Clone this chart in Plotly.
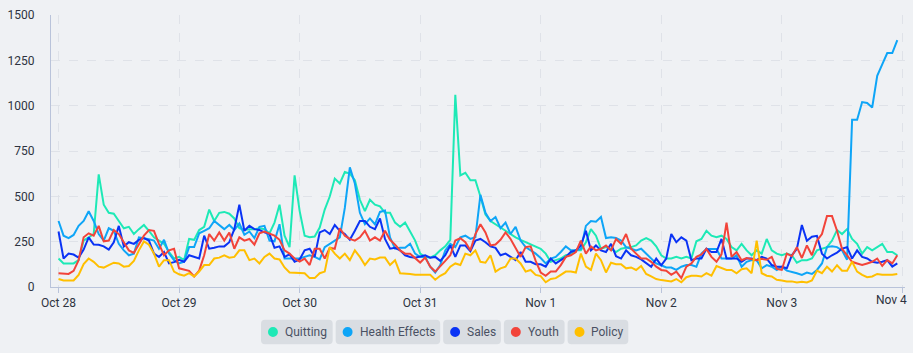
import pandas as pd
import plotly.graph_objects as go

series_names = ["Quitting", "Health Effects", "Sales", "Youth", "Policy"]
series_colors = ["#1de9b6", "#0ea5f7", "#0a33f5", "#f2443a", "#ffbf00"]

quitting = [
    157,130,130,130,148,256,274,292,621,454,409,404,364,324,332,292,319,342,310,274,256,238,193,157,
    166,148,265,260,314,332,427,364,409,414,404,378,324,314,319,319,324,319,296,355,454,283,220,616,
    420,283,274,278,328,427,499,598,571,634,625,589,481,418,481,454,445,409,409,355,332,355,306,256,
    184,166,162,175,202,224,260,1060,616,630,589,589,499,400,364,346,324,310,292,274,260,247,234,220,
    211,184,139,148,157,175,180,202,202,247,319,283,211,220,211,193,211,216,220,229,256,270,256,224,
    175,157,157,166,157,166,157,252,265,310,283,274,283,265,220,202,238,202,175,202,184,265,202,184,
    175,184,175,134,148,148,157,202,211,220,256,314,292,319,265,238,184,220,202,220,238,193,193,175,
]
health_effects = [
    364,283,270,287,337,364,418,364,292,256,324,310,238,202,175,184,274,270,263,256,211,260,184,148,
    130,139,220,220,296,310,324,364,342,319,342,314,350,288,306,270,332,337,256,252,346,157,157,157,
    157,166,175,166,152,220,238,256,274,436,660,571,409,346,378,346,414,422,274,211,216,216,238,184,
    165,166,112,80,121,202,238,220,274,283,265,274,508,409,364,386,324,355,292,332,256,220,202,184,
    160,130,157,166,193,224,202,202,210,337,364,360,386,270,274,270,256,220,211,202,211,184,157,130,
    120,108,107,94,112,121,121,112,184,210,210,210,157,157,157,175,112,139,148,148,103,121,112,94,
    112,90,85,76,67,80,72,94,130,220,224,220,202,150,922,922,1020,1015,990,1165,1228,1290,1290,1362,
]
sales = [
    306,157,184,179,162,206,274,234,233,224,206,247,337,224,247,238,260,270,256,184,166,193,130,137,
    150,139,175,166,157,283,211,216,224,224,247,319,454,310,337,319,314,301,292,216,224,166,180,139,
    152,202,211,166,301,314,292,342,310,292,260,310,364,364,332,319,378,265,211,216,202,175,166,162,
    170,175,162,166,144,175,229,166,229,229,198,256,265,247,224,216,175,184,166,148,193,139,139,126,
    125,112,157,130,148,166,193,202,229,310,202,229,202,193,238,170,157,202,175,166,152,130,112,157,
    120,157,292,247,274,256,148,157,157,211,193,193,265,157,157,157,139,157,157,148,166,157,121,112,
    112,103,175,210,342,255,277,282,184,157,175,190,211,220,157,202,166,157,139,134,139,148,112,130,
]
youth = [
    76,76,72,89,148,274,296,283,337,252,256,314,292,247,202,188,238,283,314,310,238,175,202,211,
    103,94,89,58,90,175,292,256,301,256,301,211,274,256,265,234,296,306,296,283,260,202,184,157,
    140,157,121,211,211,157,216,211,324,283,265,256,274,310,256,274,256,310,260,234,202,184,184,161,
    135,162,112,85,112,144,175,256,269,247,202,292,346,301,229,234,260,301,265,211,166,220,224,144,
    80,62,85,85,121,166,175,193,256,184,224,202,211,229,202,265,238,292,211,184,157,157,139,112,
    94,90,67,85,49,112,130,166,180,210,166,139,180,355,166,193,148,160,155,148,155,150,166,100,
    94,184,170,220,160,229,175,256,292,391,391,310,210,175,139,130,121,130,139,157,116,148,130,175,
]
policy = [
    44,36,36,36,67,126,157,139,112,107,121,134,130,112,116,144,202,251,233,184,112,148,148,85,
    70,62,76,58,85,121,121,157,162,175,162,166,202,202,148,157,130,166,184,157,152,108,80,80,
    76,76,49,49,76,85,220,184,157,184,148,202,166,121,157,152,162,162,121,148,76,76,72,67,
    65,67,67,40,62,76,112,130,121,184,175,202,139,134,175,85,103,112,157,157,130,85,94,67,
    60,26,44,49,67,85,85,80,184,112,94,184,148,80,134,126,126,103,108,94,116,72,58,44,
    38,36,31,44,26,54,62,62,58,76,62,116,103,94,94,76,98,103,76,256,76,62,58,40,
    36,31,31,25,29,25,36,90,76,112,85,120,90,90,139,85,67,54,58,72,67,67,67,72,
]
series_values = [quitting, health_effects, sales, youth, policy]

timestamps = pd.date_range("2024-10-28 00:00", periods=168, freq="h")
y_ticks = [0, 250, 500, 750, 1000, 1250, 1500]
last_tick_label = "Nov 4"

BG = "#eff1f4"
AXIS = "#b9c3da"
GRID = "#dfe2e8"
FONT = "Roboto, 'Noto Sans', sans-serif"
TICK_COLOR = "#2d3340"

fig = go.Figure()
for name, color, vals in zip(series_names, series_colors, series_values):
    fig.add_trace(go.Scatter(
        x=timestamps[:len(vals)], y=vals, name=name, mode="lines",
        line=dict(color=color, width=2), hoverinfo="skip", showlegend=False,
    ))

# plot area in pixels
L, R, T, B = 47, 905, 9.5, 287.5
W, H = R - L, B - T

def px(xp):
    return (xp - L) / W

def py(yp):
    return (B - yp) / H

# custom legend chips
chips = [(258, 330), (333, 438), (441, 499), (502, 563), (566, 627)]
chip_top, chip_bot, rad = 321, 346, 4
shapes = []
annotations = []
for (x0, x1), name, color in zip(chips, series_names, series_colors):
    rx, ry = rad / W, rad / H
    X0, X1, Y0, Y1 = px(x0), px(x1), py(chip_bot), py(chip_top)
    path = (f"M {X0+rx},{Y0} L {X1-rx},{Y0} Q {X1},{Y0} {X1},{Y0+ry} "
            f"L {X1},{Y1-ry} Q {X1},{Y1} {X1-rx},{Y1} L {X0+rx},{Y1} "
            f"Q {X0},{Y1} {X0},{Y1-ry} L {X0},{Y0+ry} Q {X0},{Y0} {X0+rx},{Y0} Z")
    shapes.append(dict(type="path", xref="paper", yref="paper", path=path,
                       fillcolor="#d9dde2", line=dict(width=0), layer="above"))
    cx, cy = x0 + 12, (chip_top + chip_bot) / 2
    shapes.append(dict(type="circle", xref="paper", yref="paper",
                       x0=px(cx - 5), x1=px(cx + 5), y0=py(cy + 5), y1=py(cy - 5),
                       fillcolor=color, line=dict(width=0), layer="above"))
    annotations.append(dict(x=px(x0 + 22), y=py(cy), xref="paper", yref="paper",
                            text=name, showarrow=False, xanchor="left", yanchor="middle",
                            font=dict(family=FONT, size=12, color="#4a5163")))

# last x tick label, shifted inward like the original
annotations.append(dict(x=px(909), y=py(301), xref="paper", yref="paper",
                        text=last_tick_label, showarrow=False, xanchor="right",
                        yanchor="middle",
                        font=dict(family=FONT, size=12, color=TICK_COLOR)))

fig.update_layout(
    width=913, height=353,
    margin=dict(l=L, r=913 - R, t=T, b=353 - B),
    paper_bgcolor=BG, plot_bgcolor=BG,
    font=dict(family=FONT, size=12, color=TICK_COLOR),
    shapes=shapes, annotations=annotations,
    showlegend=False,
    xaxis=dict(
        range=["2024-10-27 22:30", "2024-11-04 00:32"],
        tickformat="%b %-d", dtick=86400000, tick0="2024-10-28",
        showgrid=True, gridcolor=GRID, griddash="dash", gridwidth=1,
        showline=True, linecolor=AXIS, linewidth=1,
        ticks="outside", ticklen=5, tickcolor=AXIS,
        zeroline=False, fixedrange=True,
        tickfont=dict(family=FONT, size=12, color=TICK_COLOR),
    ),
    yaxis=dict(
        range=[0, 1500], tickvals=y_ticks,
        showgrid=True, gridcolor=GRID, griddash="dash", gridwidth=1,
        showline=True, linecolor=AXIS, linewidth=1,
        ticks="", ticklabelstandoff=13,
        zeroline=False, fixedrange=True,
        tickfont=dict(family=FONT, size=12, color=TICK_COLOR),
    ),
)

fig.write_html("out.html", config={"displayModeBar": False})
